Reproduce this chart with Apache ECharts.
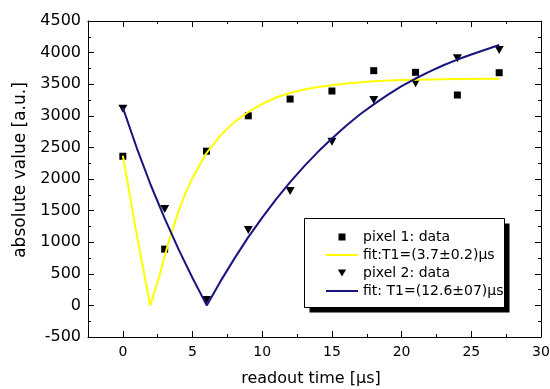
<!DOCTYPE html>
<html>
<head>
<meta charset="utf-8">
<script src="https://cdn.jsdelivr.net/npm/echarts@6/dist/echarts.min.js"></script>
<style>html,body{margin:0;padding:0;background:#fff}#c{width:550px;height:389px}</style>
</head>
<body>
<div id="c"></div>
<script>
// ---- data ----
var times = [0, 3, 6, 9, 12, 15, 18, 21, 24, 27];
var pixel1 = [2360, 890, 2440, 3000, 3265, 3392, 3714, 3688, 3329, 3682];
var pixel2 = [3110, 1525, 85, 1193, 1810, 2590, 3250, 3514, 3910, 4041];

var fit1T = [0, 1, 1.96, 2.6, 3, 3.5, 4, 4.5, 5, 6, 7, 8, 9, 10, 11, 12, 13, 14, 16, 18, 20, 22, 24, 27];
var fit1V = [2370, 1120, 0, 450, 780, 1160, 1490, 1780, 2020, 2410, 2690, 2900, 3060, 3190, 3290, 3360, 3415, 3455, 3510, 3545, 3565, 3575, 3582, 3586];

var fit2T = [0, 1, 2, 3, 4, 5, 6.02, 7, 8, 9, 10, 11, 12, 13, 14, 15, 16, 17, 18, 19, 20, 21, 22, 23, 24, 25, 26, 27];
var fit2V = [3130, 2490, 1905, 1376, 886, 434, 0, 380, 740, 1080, 1390, 1680, 1950, 2200, 2430, 2640, 2840, 3020, 3180, 3330, 3470, 3590, 3700, 3800, 3890, 3970, 4045, 4120];

var xTickValues = [0, 5, 10, 15, 20, 25, 30];
var yTickMin = -500, yTickMax = 4500, yTickStep = 500;
var xMin = -2.5, xMax = 30, xMinorStep = 2.5;

var names = ['pixel 1: data', 'fit:T1=(3.7\u00b10.2)\u03bcs', 'pixel 2: data', 'fit: T1=(12.6\u00b107)\u03bcs'];
var xTitle = 'readout time [\u03bcs]';
var yTitle = 'absolute value [a.u.]';

// ---- chart ----
function zip(a, b) { return a.map(function (v, i) { return [v, b[i]]; }); }
var FONT = 'DejaVu Sans';
var squarePath = 'path://M0,0H10V10H0Z';
var triPath = 'path://M0,0H10L5,8.5Z';
var blue = '#17137f';

var baseX = { type: 'value', min: xMin, max: xMax, interval: xMinorStep, splitLine: { show: false } };
function xa(extra) { return Object.assign({}, baseX, extra); }
var lineOn = { show: true, onZero: false, lineStyle: { color: '#000', width: 1 } };
var lineOff = { show: false, onZero: false };

var chart = echarts.init(document.getElementById('c'), null, { renderer: 'canvas' });
chart.setOption({
  animation: false,
  backgroundColor: '#fff',
  grid: { left: 88, right: 9, top: 21, bottom: 52, containLabel: false, outerBoundsMode: 'none' },
  xAxis: [
    xa({ position: 'bottom', axisLine: lineOn,
      axisTick: { show: true, inside: true, length: 6, customValues: xTickValues, lineStyle: { color: '#000' } },
      axisLabel: { show: true, customValues: xTickValues, color: '#000', fontFamily: FONT, fontSize: 14, margin: 8,
        formatter: function (v) { return (v % 5 === 0) ? String(v) : ''; } },
      name: xTitle, nameLocation: 'middle', nameGap: 34,
      nameTextStyle: { color: '#000', fontFamily: FONT, fontSize: 16, padding: [0, 7, 0, 0] } }),
    xa({ position: 'bottom', axisLine: lineOff,
      axisTick: { show: true, inside: true, length: 3, lineStyle: { color: '#000' } },
      axisLabel: { show: false } }),
    xa({ position: 'top', axisLine: lineOn,
      axisTick: { show: true, inside: true, length: 6, customValues: xTickValues, lineStyle: { color: '#000' } },
      axisLabel: { show: false } }),
    xa({ position: 'top', axisLine: lineOff,
      axisTick: { show: true, inside: true, length: 3, lineStyle: { color: '#000' } },
      axisLabel: { show: false } })
  ],
  yAxis: [
    { type: 'value', position: 'left', min: yTickMin, max: yTickMax, interval: yTickStep,
      splitLine: { show: false }, axisLine: lineOn,
      axisTick: { show: true, inside: true, length: 6, lineStyle: { color: '#000' } },
      minorTick: { show: true, splitNumber: 2, length: 3, lineStyle: { color: '#000' } },
      axisLabel: { color: '#000', fontFamily: FONT, fontSize: 16, margin: 7,
        formatter: function (v) { return String(v); } },
      name: yTitle, nameLocation: 'middle', nameGap: 55,
      nameTextStyle: { color: '#000', fontFamily: FONT, fontSize: 17, padding: [0, 0, 0, 18] } },
    { type: 'value', position: 'right', min: yTickMin, max: yTickMax, interval: yTickStep,
      splitLine: { show: false }, axisLine: lineOn,
      axisTick: { show: true, inside: true, length: 6, lineStyle: { color: '#000' } },
      minorTick: { show: true, splitNumber: 2, length: 3, lineStyle: { color: '#000' } },
      axisLabel: { show: false } }
  ],
  graphic: [
    { type: 'rect', z: 3, shape: { x: 309.5, y: 223.5, width: 200, height: 89 }, style: { fill: '#000' } },
    { type: 'rect', z: 3, shape: { x: 304.5, y: 218.5, width: 200, height: 89 }, style: { fill: '#fff', stroke: '#000', lineWidth: 1 } }
  ],
  legend: {
    orient: 'vertical', left: 325, top: 230, padding: 0,
    itemWidth: 32, itemHeight: 7, itemGap: 4, z: 5,
    textStyle: { color: '#000', fontFamily: FONT, fontSize: 14 },
    data: [
      { name: names[0], icon: squarePath },
      { name: names[1], itemStyle: { opacity: 0 } },
      { name: names[2], icon: triPath },
      { name: names[3], itemStyle: { opacity: 0 } }
    ]
  },
  series: [
    { name: names[1], type: 'line', data: zip(fit1T, fit1V), symbol: 'none', smooth: false,
      lineStyle: { color: '#ffff00', width: 2 }, itemStyle: { color: '#ffff00' } },
    { name: names[3], type: 'line', data: zip(fit2T, fit2V), symbol: 'none', smooth: false,
      lineStyle: { color: blue, width: 2 }, itemStyle: { color: blue } },
    { name: names[0], type: 'scatter', data: zip(times, pixel1), symbol: squarePath, symbolSize: 7,
      itemStyle: { color: '#000', opacity: 1 } },
    { name: names[2], type: 'scatter', data: zip(times, pixel2), symbol: triPath, symbolSize: [9, 8],
      itemStyle: { color: '#000', opacity: 1 } }
  ]
});
</script>
</body>
</html>
